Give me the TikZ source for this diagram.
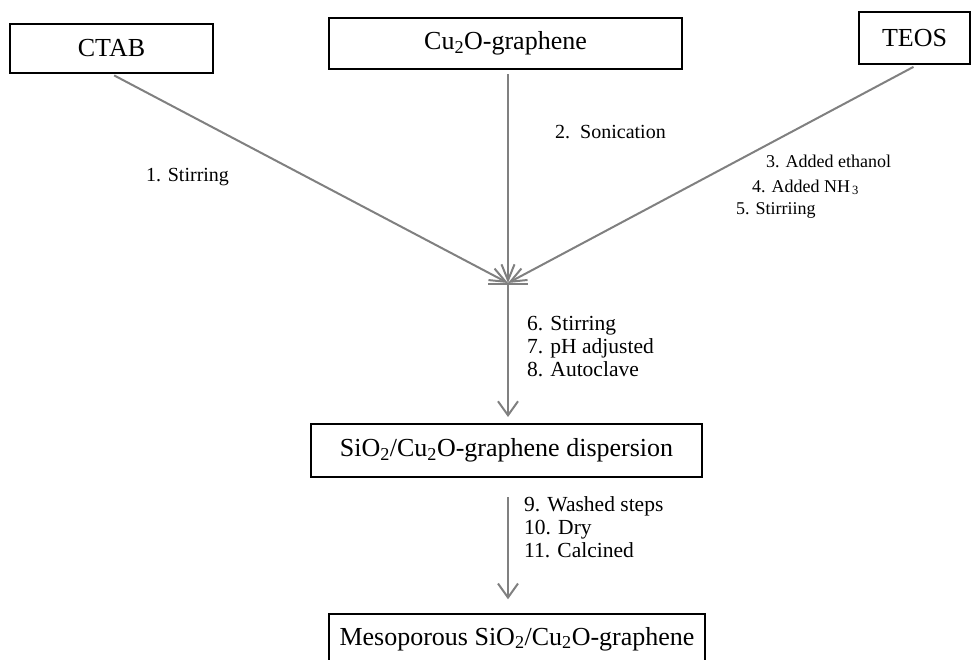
\documentclass[tikz,border=0pt]{standalone}
\usepackage{fontspec}
\setmainfont{Liberation Serif}
\usetikzlibrary{arrows.meta}
\definecolor{linegray}{RGB}{128,128,128}
\tikzset{
  box/.style={draw=black, line width=2pt, inner sep=0pt, font=\fontsize{26}{30}\selectfont},
  conn/.style={draw=linegray, line width=2pt, -{Straight Barb[length=14pt,width=20pt,line width=2pt]}},
  jconn/.style={draw=linegray, line width=2pt, -{Straight Barb[length=16pt,width=13pt,line width=2pt]}},
  plain/.style={draw=linegray, line width=2pt},
  lbl/.style={anchor=base west, inner sep=0pt, font=\fontsize{20}{22}\selectfont},
  lblsmall/.style={lbl, font=\fontsize{18}{20}\selectfont},
  lblbig/.style={lbl, font=\fontsize{21.5}{24}\selectfont},
}
\begin{document}
\begin{tikzpicture}[x=1pt,y=-1pt]
\useasboundingbox (0,0) rectangle (972,659);
% boxes
\node[box, minimum width=203pt, minimum height=49pt] (ctab) at (111.5,48.5) {CTAB};
\node[box, minimum width=353pt, minimum height=51pt] (cuo) at (505.5,43.5) {Cu\textsubscript{2}O-graphene};
\node[box, minimum width=111pt, minimum height=52pt] (teos) at (914.5,38) {TEOS};
\node[box, minimum width=391pt, minimum height=53pt] (disp) at (506.5,450.5) {SiO\textsubscript{2}/Cu\textsubscript{2}O-graphene dispersion};
\node[box, line width=1.5pt, minimum width=376pt, minimum height=50pt] (meso) at (517,639) {Mesoporous SiO\textsubscript{2}/Cu\textsubscript{2}O-graphene};
% junction
\coordinate (j) at (508,283);
\coordinate (bl) at (488,284);
\coordinate (br) at (528,284);
\coordinate (a2) at (508,497);
\draw[jconn, shorten <=3pt] (ctab.south) -- (j);
\draw[jconn, shorten <=4pt] (cuo.south -| j) -- (j);
\draw[jconn, shorten <=4pt] ([xshift=2.5pt]teos.south) -- (j);
\draw[plain] (bl) -- (br);
\draw[conn, shorten >=6pt] (j) -- (j |- disp.north);
\draw[conn, shorten >=14pt] (a2) -- (a2 |- meso.north);
% labels
\node[lbl] (l1) at (146,181) {1. Stirring};
\node[lbl] (l2) at (555,138) {2.\ \ Sonication};
\node[lblsmall] (l3) at (766,167) {3. Added ethanol};
\node[lblsmall] (l4) at (752,192) {4. Added NH\kern2pt\textsubscript{3}};
\node[lblsmall] (l5) at (736,214) {5. Stirriing};
\node[lblbig] (l6) at (527,330) {6. Stirring};
\node[lblbig] (l7) at (527,353) {7. pH adjusted};
\node[lblbig] (l8) at (527,376) {8. Autoclave};
\node[lblbig] (l9) at (524,511) {9. Washed steps};
\node[lblbig] (l10) at (524,534) {10. Dry};
\node[lblbig] (l11) at (524,557) {11. Calcined};
\end{tikzpicture}
\end{document}
